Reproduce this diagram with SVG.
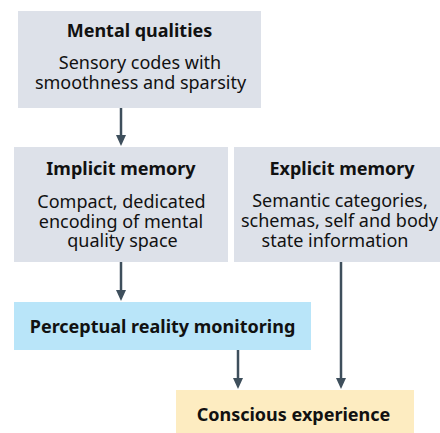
<svg xmlns="http://www.w3.org/2000/svg" width="440" height="433" viewBox="0 0 440 433">
  <style>
    .box-grey { fill: #dde1e9; }
    .box-blue { fill: #b9e5f9; }
    .box-yellow { fill: #fdecc1; }
    .title { font-family: "Noto Sans", "Open Sans", sans-serif; font-weight: bold; font-size: 18px; fill: #111; text-anchor: middle; }
    .body { font-family: "Noto Sans", "Open Sans", sans-serif; font-size: 18px; fill: #111; text-anchor: middle; }
    .link { stroke: #3e4f5c; stroke-width: 2.5; fill: none; marker-end: url(#head); }
  </style>
  <defs>
    <!-- arrowhead: tip sits 8px past the end of the line -->
    <marker id="head" viewBox="0 0 11 10" refX="3" refY="5" markerWidth="11" markerHeight="10" markerUnits="userSpaceOnUse" orient="auto">
      <path d="M0,0 L11,5 L0,10 Z" fill="#3e4f5c"/>
    </marker>
  </defs>

  <g id="connectors">
    <line class="link" x1="121" y1="108" x2="121" y2="138"/>
    <line class="link" x1="121" y1="262" x2="121" y2="293"/>
    <line class="link" x1="238" y1="350" x2="238" y2="381"/>
    <line class="link" x1="341" y1="262" x2="341" y2="381"/>
  </g>

  <g id="mental-qualities">
    <rect class="box-grey" x="18" y="11" width="243" height="97"/>
    <text class="title" x="139.5" y="37">Mental qualities</text>
    <text class="body" x="140" y="69">Sensory codes with</text>
    <text class="body" x="140.5" y="89">smoothness and sparsity</text>
  </g>

  <g id="implicit-memory">
    <rect class="box-grey" x="14" y="147" width="214" height="115"/>
    <text class="title" x="121" y="175">Implicit memory</text>
    <text class="body" x="121.5" y="208">Compact, dedicated</text>
    <text class="body" x="121" y="228">encoding of mental</text>
    <text class="body" x="122.5" y="247">quality space</text>
  </g>

  <g id="explicit-memory">
    <rect class="box-grey" x="234" y="147" width="206" height="115"/>
    <text class="title" x="342" y="175">Explicit memory</text>
    <text class="body" x="340" y="207">Semantic categories,</text>
    <text class="body" x="339.5" y="227">schemas, self and body</text>
    <text class="body" x="335" y="247">state information</text>
  </g>

  <g id="perceptual-reality-monitoring">
    <rect class="box-blue" x="14" y="302" width="297" height="48"/>
    <text class="title" x="162.5" y="333">Perceptual reality monitoring</text>
  </g>

  <g id="conscious-experience">
    <rect class="box-yellow" x="176" y="390" width="238" height="43"/>
    <text class="title" x="293.5" y="421">Conscious experience</text>
  </g>
</svg>
